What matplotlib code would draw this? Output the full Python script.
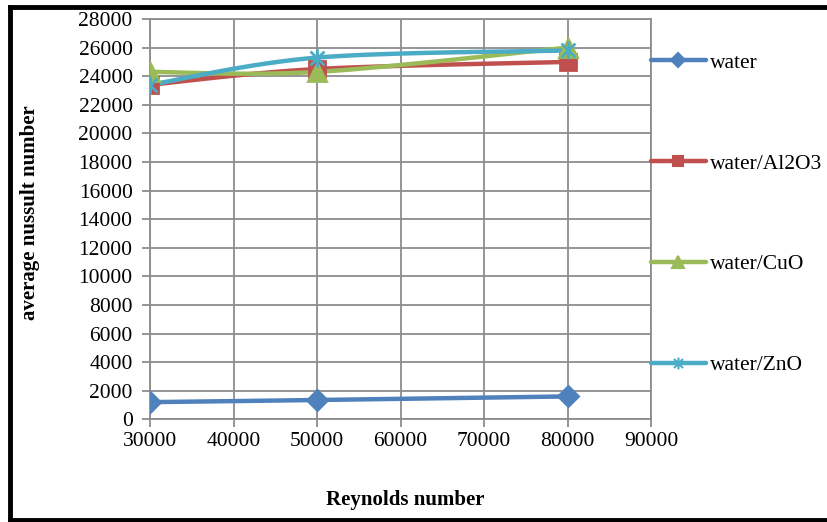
import numpy as np
import matplotlib
matplotlib.use("Agg")
import matplotlib.pyplot as plt
from matplotlib.lines import Line2D
from matplotlib.path import Path

# 数据：雷诺数与平均努塞尔数
reynolds = [30000, 50000, 80000]
nu_water = [1200, 1350, 1600]
nu_al2o3 = [23400, 24500, 25000]
nu_cuo = [24300, 24300, 26000]
nu_zno = [23400, 25300, 25800]

series_names = ["water", "water/Al2O3", "water/CuO", "water/ZnO"]
x_ticks = [30000, 40000, 50000, 60000, 70000, 80000, 90000]
y_ticks = list(range(0, 28001, 2000))

plt.rcParams['font.family'] = ['Liberation Serif', 'DejaVu Serif']

# Excel 的星形标记：X 加一条竖线
star = Path([(-1, -1), (1, 1), (-1, 1), (1, -1), (0, -1.3), (0, 1.3)],
            [Path.MOVETO, Path.LINETO, Path.MOVETO, Path.LINETO,
             Path.MOVETO, Path.LINETO])


def smooth_curve(x, y, n=60):
    # Excel 风格的平滑线（Catmull-Rom 转三次贝塞尔）
    pts = np.column_stack([x, y]).astype(float)
    out = []
    for i in range(len(pts) - 1):
        p0 = pts[i - 1] if i > 0 else pts[i]
        p1 = pts[i]
        p2 = pts[i + 1]
        p3 = pts[i + 2] if i + 2 < len(pts) else pts[i + 1]
        c1 = p1 + (p2 - p0) / 6.0
        c2 = p2 - (p3 - p1) / 6.0
        t = np.linspace(0, 1, n)[:, None]
        seg = ((1 - t) ** 3) * p1 + 3 * ((1 - t) ** 2) * t * c1 \
            + 3 * (1 - t) * t ** 2 * c2 + t ** 3 * p2
        out.append(seg if i == 0 else seg[1:])
    seg = np.vstack(out)
    return seg[:, 0], seg[:, 1]


fig = plt.figure(figsize=(8.27, 5.22), dpi=100)
ax = fig.add_axes([150 / 827, 1 - 419.3 / 522, 501 / 827, 400.3 / 522])

styles = [
    dict(color='#4F81BD', marker='D', ms=10.5),
    dict(color='#C0504D', marker='s', ms=11),
    dict(color='#9BBB59', marker='^', ms=12.5),
    dict(color='#4BACC6', marker=star, ms=13),
]
all_y = [nu_water, nu_al2o3, nu_cuo, nu_zno]

handles = []
for name, yv, st in zip(series_names, all_y, styles):
    sx, sy = smooth_curve(reynolds, yv)
    ax.plot(sx, sy, color=st['color'], lw=3.2, solid_capstyle='round', zorder=3)
    ax.plot(reynolds, yv, ls='none', marker=st['marker'], ms=st['ms'],
            color=st['color'], mec=st['color'], mew=2, zorder=4)
    handles.append(Line2D([], [], color=st['color'], lw=3.2, marker=st['marker'],
                          ms=st['ms'] * 0.65, mec=st['color'], mew=1.5,
                          solid_capstyle='round', label=name))

ax.set_xlim(30000, 90000)
ax.set_ylim(0, 28000)
ax.set_xticks(x_ticks)
ax.set_yticks(y_ticks)
ax.grid(True, color='#8C8C8C', lw=1.3)
ax.set_axisbelow(True)
for sp in ax.spines.values():
    sp.set_color('#8C8C8C')
    sp.set_linewidth(1.3)
ax.tick_params(axis='both', direction='out', length=5.5, width=1.3,
               color='#8C8C8C', labelsize=15.5)
ax.tick_params(axis='y', pad=7)
ax.tick_params(axis='x', pad=4)

# 坐标轴标题
fig.text(405 / 827, 1 - 500 / 522, "Reynolds number", fontsize=15,
         fontweight='bold', ha='center', va='center')
fig.text(30 / 827, 1 - 213 / 522, "average nussult number", fontsize=15,
         fontweight='bold', ha='center', va='center', rotation=90)

fig.legend(handles=handles, loc='center left',
           bbox_to_anchor=(651 / 827, 1 - 214 / 522), frameon=False,
           fontsize=15.5, handlelength=2.55, handletextpad=0.2,
           labelspacing=3.75, borderpad=0, borderaxespad=0)

# 外框
frame_kw = dict(color='black', lw=3.5, transform=fig.transFigure)
fig.add_artist(Line2D([10 / 827, 10 / 827], [1 - 7 / 522, 1 - 520 / 522], **frame_kw))
fig.add_artist(Line2D([10 / 827, 1.0], [1 - 7 / 522, 1 - 7 / 522], **frame_kw))
fig.add_artist(Line2D([10 / 827, 1.0], [1 - 520 / 522, 1 - 520 / 522], **frame_kw))

fig.savefig("out.png", dpi=100)
plt.close(fig)
